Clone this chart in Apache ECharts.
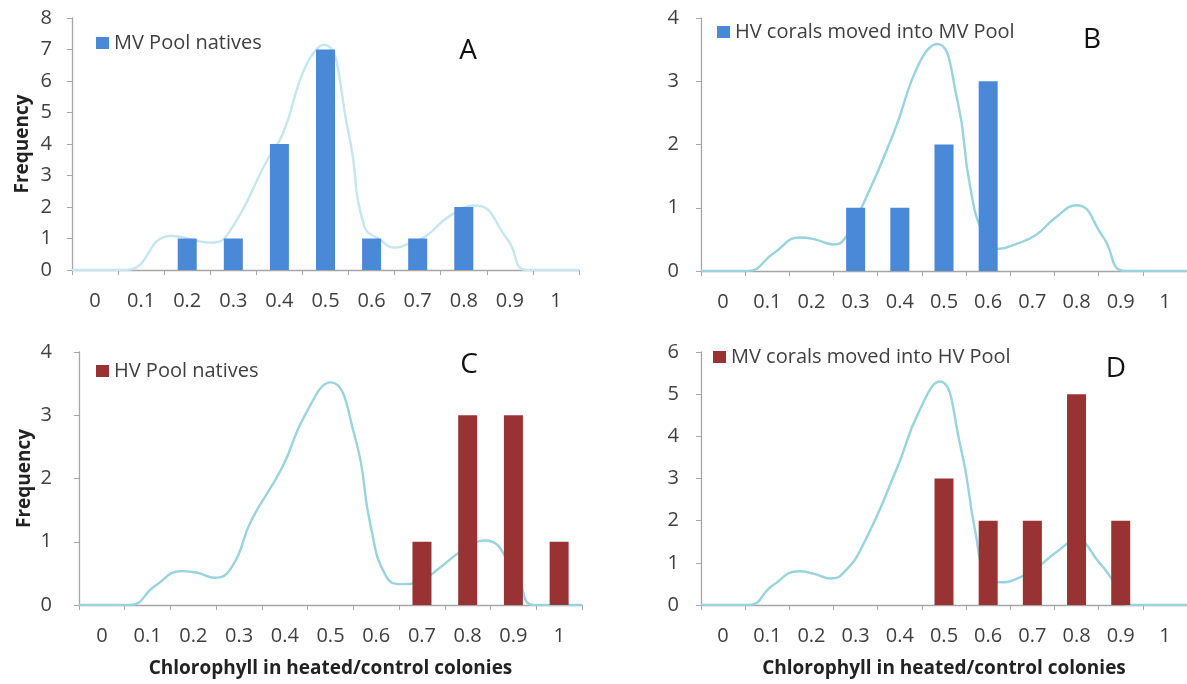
<!DOCTYPE html>
<html>
<head>
<meta charset="utf-8">
<script src="https://cdn.jsdelivr.net/npm/echarts@6/dist/echarts.min.js"></script>
<style>
html,body{margin:0;padding:0;background:#fff;}
#chart{width:1187px;height:684px;}
</style>
</head>
<body>
<div id="chart"></div>
<script>
// ---- data ----
var categories = ['0','0.1','0.2','0.3','0.4','0.5','0.6','0.7','0.8','0.9','1'];
var seriesNames = ['MV Pool natives','HV corals moved into MV Pool','HV Pool natives','MV corals moved into HV Pool'];
var panelLetters = ['A','B','C','D'];
var barsA = [0,0,1,1,4,7,1,1,2,0,0];
var barsB = [0,0,0,1,1,2,3,0,0,0,0];
var barsC = [0,0,0,0,0,0,0,1,3,3,1];
var barsD = [0,0,0,0,0,3,2,2,5,2,0];
var yMax = [8,4,4,6];
// density curves: [chlorophyll ratio, frequency]
var curveA = [[-0.05,0],[0.067,0],[0.164,1.08],[0.252,0.87],[0.29,1.18],[0.374,3.5],[0.408,4.35],[0.458,6.5],[0.497,7.15],[0.55,4.35],[0.584,1.4],[0.618,0.97],[0.651,0.71],[0.685,0.87],[0.718,1.08],[0.769,1.71],[0.825,2.05],[0.895,0.97],[0.937,0],[1.05,0]];
var curveB = [[-0.05,0],[0.055,0],[0.114,0.28],[0.174,0.53],[0.208,0.5],[0.25,0.42],[0.275,0.51],[0.318,1.07],[0.386,2.18],[0.445,3.3],[0.485,3.59],[0.53,2.71],[0.559,1.34],[0.589,0.59],[0.623,0.35],[0.657,0.41],[0.708,0.57],[0.75,0.83],[0.8,1.04],[0.86,0.54],[0.911,0],[1.05,0]];
var curveC = [[-0.05,0],[0.061,0],[0.116,0.3],[0.175,0.535],[0.209,0.51],[0.247,0.43],[0.285,0.61],[0.327,1.34],[0.394,2.17],[0.444,3.0],[0.5,3.52],[0.554,2.64],[0.588,1.24],[0.621,0.46],[0.655,0.33],[0.697,0.38],[0.739,0.59],[0.79,0.87],[0.838,1.02],[0.907,0.46],[0.945,0],[1.05,0]];
var curveD = [[-0.05,0],[0.057,0],[0.112,0.46],[0.172,0.8],[0.206,0.74],[0.244,0.63],[0.274,0.78],[0.316,1.41],[0.393,3.23],[0.443,4.58],[0.49,5.3],[0.537,3.78],[0.571,1.73],[0.596,0.7],[0.63,0.54],[0.664,0.62],[0.707,0.86],[0.754,1.25],[0.8,1.53],[0.851,1.01],[0.885,0.54],[0.919,0],[1.05,0]];

var bars = [barsA,barsB,barsC,barsD];
var curves = [curveA,curveB,curveC,curveD];

// ---- layout / style ----
var FONT = 'Open Sans';
var BLUE = '#4a88d8', RED = '#983233';
var barColors = [BLUE,BLUE,RED,RED];
var curveColors = ['#c4e6ee','#98d3de','#98d3de','#98d3de'];
var grids = [
  {left:72, top:18, width:507, height:252},
  {left:701, top:18, width:487, height:253},
  {left:79, top:352, width:503, height:253},
  {left:701, top:352, width:487, height:253}
];
var yLabelMargin = [20,22,27,22];
var freqGap = [38,0,43,0];
var legendPos = [{left:96,top:31},{left:717,top:20},{left:96,top:359},{left:713,top:345}];
var letterPos = [[468,51],[1092,40],[469,365],[1116,369]];
var AXIS = '#a6a6a6', TXT = '#404040';

var xAxes = [], yAxes = [], series = [], legends = [], graphics = [];
for (var i=0;i<4;i++){
  xAxes.push({
    type:'category', gridIndex:i, data:categories,
    boundaryGap:true,
    axisLine:{onZero:false,lineStyle:{color:AXIS,width:1.3}},
    axisTick:{show:true,length:5,lineStyle:{color:AXIS}},
    axisLabel:{fontFamily:FONT,fontSize:20,color:TXT,margin:19,lineHeight:24,interval:0},
    name: i>=2 ? 'Chlorophyll in heated/control colonies' : '',
    nameLocation:'middle', nameGap:53,
    nameTextStyle:{fontFamily:FONT,fontSize:19,fontWeight:'bold',color:'#222',lineHeight:22},
    splitLine:{show:false}
  });
  xAxes.push({
    type:'value', gridIndex:i, min:-0.05, max:1.05, show:false, splitLine:{show:false}
  });
  yAxes.push({
    type:'value', gridIndex:i, min:0, max:yMax[i], interval:1,
    axisLine:{show:true,onZero:false,lineStyle:{color:AXIS,width:1.3}},
    axisTick:{show:true,length:5,lineStyle:{color:AXIS}},
    axisLabel:{fontFamily:FONT,fontSize:20,color:TXT,margin:yLabelMargin[i]},
    splitLine:{show:false},
    name: (i%2===0) ? 'Frequency' : '',
    nameLocation:'middle', nameRotate:90, nameGap:freqGap[i],
    nameTextStyle:{fontFamily:FONT,fontSize:19,fontWeight:'bold',color:'#222',lineHeight:22}
  });
  series.push({
    type:'line', name:'curve'+i, xAxisIndex:2*i+1, yAxisIndex:i,
    data:curves[i], smooth:0.5, symbol:'none',
    lineStyle:{color:curveColors[i],width:2.4}, z:1, silent:true
  });
  series.push({
    type:'bar', name:seriesNames[i], xAxisIndex:2*i, yAxisIndex:i,
    data:bars[i], barWidth:19, itemStyle:{color:barColors[i]}, z:3
  });
  legends.push({
    data:[{name:seriesNames[i],icon:'rect'}],
    left:legendPos[i].left, top:legendPos[i].top, padding:0,
    itemWidth:13, itemHeight:12, itemGap:5, selectedMode:false,
    textStyle:{fontFamily:FONT,fontSize:20,color:TXT,lineHeight:24}
  });
  graphics.push({
    type:'text', x:letterPos[i][0], y:letterPos[i][1],
    style:{text:panelLetters[i], font:'28px "Open Sans"', fill:'#111', textAlign:'center', textVerticalAlign:'middle'}
  });
}

var chart = echarts.init(document.getElementById('chart'), null, {renderer:'canvas'});
chart.setOption({
  animation:false,
  backgroundColor:'#fff',
  grid:grids,
  xAxis:xAxes,
  yAxis:yAxes,
  legend:legends,
  series:series,
  graphic:graphics
});
</script>
</body>
</html>
